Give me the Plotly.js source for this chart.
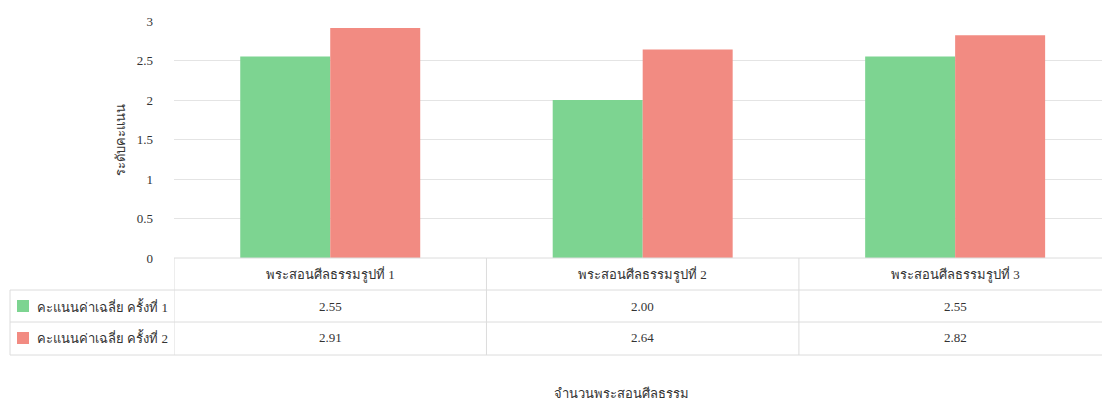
<!DOCTYPE html>
<html>
<head>
<meta charset="utf-8">
<script src="https://cdn.plot.ly/plotly-3.0.1.min.js"></script>
<style>html,body{margin:0;padding:0;background:#fff;overflow:hidden}#chart{width:1102px;height:401px}</style>
</head>
<body>
<div id="chart"></div>
<script>
const categories = ["พระสอนศีลธรรมรูปที่ 1", "พระสอนศีลธรรมรูปที่ 2", "พระสอนศีลธรรมรูปที่ 3"];
const seriesNames = ["คะแนนค่าเฉลี่ย ครั้งที่ 1", "คะแนนค่าเฉลี่ย ครั้งที่ 2"];
const round1 = [2.55, 2.00, 2.55];
const round2 = [2.91, 2.64, 2.82];
const yTickVals = [0, 0.5, 1, 1.5, 2, 2.5, 3];
const yTickText = ["0", "0.5", "1", "1.5", "2", "2.5", "3"];
const xTitle = "จำนวนพระสอนศีลธรรม";
const yTitle = "ระดับคะแนน";

const colors = ["#7dd491", "#f28b82"];
const FONT = "'Liberation Serif', 'Noto Serif', serif";
const gridColor = "#e4e4e4";
const tableColor = "#dcdcdc";

const series = [round1, round2];
const traces = series.map((vals, i) => ({
  type: "bar",
  x: categories,
  y: vals,
  name: seriesNames[i],
  marker: {color: colors[i]},
  showlegend: false,
  hoverinfo: "x+y+name"
}));

// table geometry in paper-y (plot area 237px tall)
const H = 237;
const py = px => -px / H; // px below the x axis
const rowHeader = py(16), row1 = py(48), row2 = py(80);
const lines = [0, py(32), py(64), py(97)];

const shapes = [];
const annotations = [];
// horizontal lines
shapes.push({type:"line", xref:"paper", yref:"paper", x0:0, x1:1, y0:lines[0], y1:lines[0], line:{color:tableColor, width:1}});
for (let k = 1; k < 4; k++) {
  shapes.push({type:"line", xref:"paper", yref:"paper", x0:-164/928, x1:1, y0:lines[k], y1:lines[k], line:{color:tableColor, width:1}});
}
// vertical lines at category boundaries
for (let c = 0; c <= categories.length; c++) {
  shapes.push({type:"line", xref:"x", yref:"paper", x0:c - 0.5, x1:c - 0.5, y0:lines[0], y1:lines[3], line:{color:tableColor, width:1}});
}
// left edge of legend column
shapes.push({type:"line", xref:"paper", yref:"paper", x0:-164/928, x1:-164/928, y0:lines[1], y1:lines[3], line:{color:tableColor, width:1}});

// header labels
categories.forEach((c, i) => {
  annotations.push({xref:"x", yref:"paper", x:c, y:rowHeader, text:c, showarrow:false, font:{family:FONT, size:13, color:"#333"}, yanchor:"middle"});
});
const rowYs = [row1, row2];
series.forEach((vals, s) => {
  vals.forEach((v, i) => {
    annotations.push({xref:"x", yref:"paper", x:categories[i], y:rowYs[s], text:v.toFixed(2), showarrow:false, font:{family:FONT, size:13, color:"#333"}, yanchor:"middle"});
  });
  // legend key
  shapes.push({type:"rect", xref:"paper", yref:"paper", x0:-157/928, x1:-145/928, y0:rowYs[s] - 6/H, y1:rowYs[s] + 6/H, fillcolor:colors[s], line:{width:0}});
  annotations.push({xref:"paper", yref:"paper", x:-139/928, y:rowYs[s], text:seriesNames[s], showarrow:false, xanchor:"left", yanchor:"middle", font:{family:FONT, size:13, color:"#333"}});
});
// x axis title
annotations.push({xref:"paper", yref:"paper", x:(621-174)/928, y:py(135), text:xTitle, showarrow:false, yanchor:"middle", font:{family:FONT, size:13, color:"#333"}});

const layout = {
  width: 1102, height: 401,
  margin: {l:174, r:0, t:21, b:143},
  paper_bgcolor: "#fff", plot_bgcolor: "#fff",
  barmode: "group", bargap: 0.424, bargroupgap: 0,
  font: {family: FONT, size: 12, color: "#333"},
  xaxis: {type:"category", range:[-0.5, 2.47], showticklabels:false, showgrid:false, zeroline:false, showline:false, ticks:"", fixedrange:true},
  yaxis: {range:[0, 3], tickvals:yTickVals, ticktext:yTickText, showgrid:true, gridcolor:gridColor, gridwidth:1, zeroline:false, showline:false, ticks:"", ticklabelstandoff:20, tickfont:{family:FONT, size:13, color:"#333"},
    title:{text:yTitle, font:{family:FONT, size:13, color:"#333"}, standoff:8}, fixedrange:true},
  shapes: shapes,
  annotations: annotations
};
Plotly.newPlot("chart", traces, layout, {displayModeBar:false, staticPlot:true});
</script>
</body>
</html>
